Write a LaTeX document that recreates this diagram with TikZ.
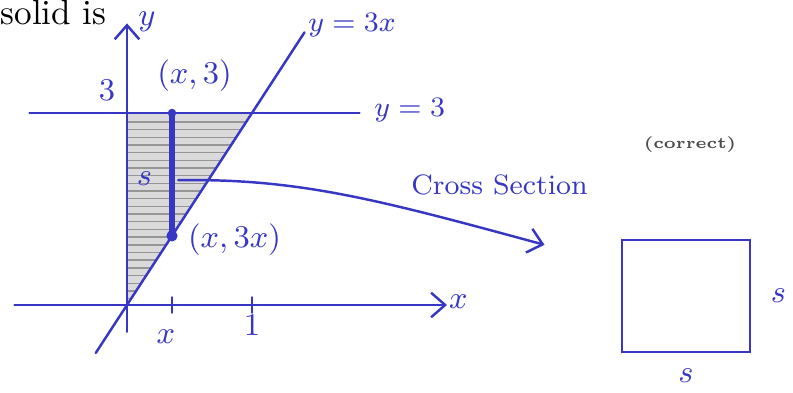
\documentclass[tikz,border=0pt]{standalone}
\usetikzlibrary{arrows.meta,positioning}
\begin{document}
\begin{tikzpicture}[
    ink/.style={draw=Ink, line width=0.7pt, line cap=round},
    pen/.style={text=Ink, font=\small},
    tip/.style={-{Straight Barb[length=4pt,width=7pt]}},
  ]

    % 颜色
    \definecolor{Ink}{RGB}{55,55,195}
    \definecolor{Pencil}{RGB}{150,150,150}

    \useasboundingbox (0,0) rectangle (7.93,3.93);

    % 题目文字
    \node[anchor=base west, inner sep=0pt] (solid) at (0,3.68) {solid is};
    \node[font=\fontsize{4.5}{5}\selectfont\bfseries, text=black!70] (correct) at (6.90,2.48) {(correct)};

    \begin{scope}[xshift=1.27cm, yshift=0.88cm, x=1.25cm, y=0.64cm]
        \coordinate (O) at (0,0);
        \coordinate (P) at (1,3);
        \coordinate (top) at (0.36,3);
        \coordinate (bot) at (0.36,1.08);
        \coordinate (from) at (0.41,1.95);
        \coordinate (to) at (3.34,0.94);

        % 阴影区域
        \fill[Pencil!35] (O) -- (0,3) -- (P) -- cycle;
        \foreach \h in {0.1,0.22,...,2.95}
            \draw[Pencil, line width=0.4pt] (0,\h) -- (\h/3,\h);

        % 坐标轴
        \draw[ink, tip] (-0.9,0) -- (2.56,0);
        \draw[ink, tip] (0,-0.42) -- (0,4.4);
        \node[pen] (xlab) at (2.65,0.05) {$x$};
        \node[pen] (ylab) at (0.16,4.42) {$y$};
        \draw[ink] (0.36,-0.12) -- (0.36,0.12);
        \draw[ink] (1,-0.12) -- (1,0.12);
        \node[pen] (xtick) at (0.31,-0.5) {$x$};
        \node[pen] (onetick) at (1,-0.32) {$1$};
        \node[pen] (three) at (-0.16,3.36) {$3$};

        % 直线
        \draw[ink] (-0.25,-0.75) -- (1.42,4.26);
        \draw[ink] (-0.78,3) -- (1.86,3);
        \node[pen, font=\footnotesize] (lineA) at (1.8,4.37) {$y=3x$};
        \node[pen, font=\footnotesize, anchor=west] (lineB) at (1.88,3.05) {$y=3$};

        % 截面线段
        \draw[Ink, line width=1.6pt] (bot) -- (top);
        \fill[Ink] (top) circle (1.2pt);
        \fill[Ink] (bot) circle (1.6pt);
        \node[pen] (ptop) at (0.54,3.59) {$(x,3)$};
        \node[pen] (pbot) at (0.86,1.02) {$(x,3x)$};
        \node[pen] (side) at (0.14,1.98) {$s$};

        % 箭头
        \draw[ink, tip] (from) .. controls (1.38,1.98) and (2.02,1.64) .. (to);
        \node[pen, font=\footnotesize] (cross) at (2.98,1.87) {Cross Section};
    \end{scope}

    % 正方形截面
    \node[draw=Ink, line width=0.8pt, minimum width=1.28cm, minimum height=1.12cm, inner sep=0pt] (sq) at (6.86,0.97) {};
    \node[pen, right=2pt of sq] (sright) {$s$};
    \node[pen, below=1pt of sq] (sbelow) {$s$};

\end{tikzpicture}
\end{document}
